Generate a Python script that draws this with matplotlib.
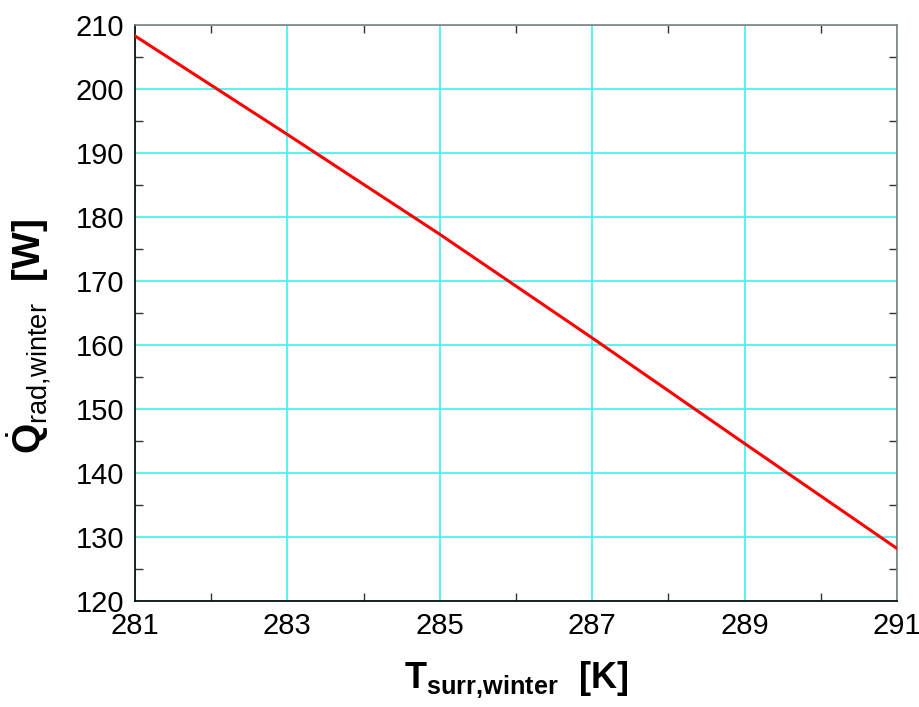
import matplotlib
matplotlib.use("Agg")
import matplotlib.pyplot as plt
from matplotlib.ticker import MultipleLocator

T_surr = [281, 283, 285, 287, 289, 291]
Q_rad = [208.3, 192.9, 177.3, 161.1, 144.6, 128.2]
x_ticks = [281, 283, 285, 287, 289, 291]
y_ticks = [120, 130, 140, 150, 160, 170, 180, 190, 200, 210]

plt.rcParams['font.family'] = ['Liberation Sans', 'DejaVu Sans']
plt.rcParams['mathtext.fontset'] = 'custom'
plt.rcParams['mathtext.rm'] = 'Liberation Sans'
plt.rcParams['mathtext.bf'] = 'Liberation Sans:bold'
plt.rcParams['mathtext.it'] = 'Liberation Sans:italic'

fig = plt.figure(figsize=(9.2, 7.07), dpi=100)
ax = fig.add_axes([0.1467, 0.15, 0.975 - 0.1467, 0.9646 - 0.15])

ax.plot(T_surr, Q_rad, color='#ff0000', lw=2.2, zorder=3)

ax.set_xlim(281, 291)
ax.set_ylim(120, 210)
ax.set_xticks(x_ticks)
ax.set_yticks(y_ticks)
ax.xaxis.set_minor_locator(MultipleLocator(1))
ax.yaxis.set_minor_locator(MultipleLocator(5))
ax.grid(True, which='major', color='#40f0f0', lw=1.2, zorder=1)
ax.tick_params(which='major', length=0, labelsize=21, pad=8)
ax.tick_params(which='minor', direction='in', length=6, width=1,
               top=True, right=True, color='#333333')

for s in ['left', 'bottom']:
    ax.spines[s].set_color('black')
    ax.spines[s].set_linewidth(1.2)
for s in ['top', 'right']:
    ax.spines[s].set_color('#808080')
    ax.spines[s].set_linewidth(1.2)

ax.set_xlabel(r'$\mathbf{T}_{\mathbf{surr{,}winter}}$  $\mathbf{[K]}$',
              fontsize=26, labelpad=14)
ax.set_ylabel(r'$\dot{\mathbf{Q}}_{\mathrm{rad{,}winter}}$  $\mathbf{[W]}$',
              fontsize=28)
ax.yaxis.set_label_coords(-0.108, 0.46)

fig.savefig('out.png', dpi=100)
